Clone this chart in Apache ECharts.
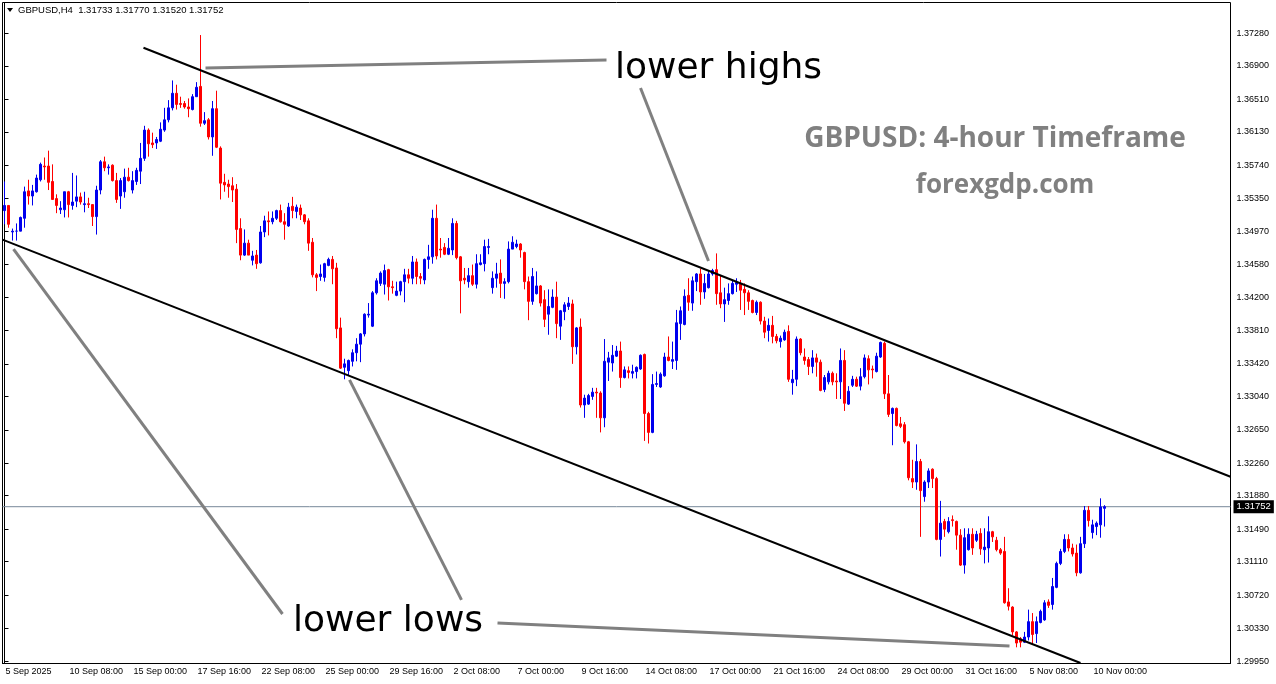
<!DOCTYPE html>
<html>
<head>
<meta charset="utf-8">
<title>GBPUSD H4</title>
<script src="https://cdn.jsdelivr.net/npm/echarts@6.0.0/dist/echarts.min.js"></script>
<style>
html, body { margin: 0; padding: 0; background: #fff; }
#chart { width: 1276px; height: 684px; }
</style>
</head>
<body>
<div id="chart"></div>
<script>
// GBPUSD H4 candles (oldest first)
var symbolName = 'GBPUSD,H4'

var openPrices = [
  1.3521, 1.3527, 1.3496, 1.3497, 1.3497, 1.3512, 1.3544, 1.3538, 1.3543, 1.3557,
  1.3573, 1.3573, 1.3555, 1.3535, 1.3522, 1.3522, 1.3543, 1.3527, 1.3532, 1.3537,
  1.3528, 1.3529, 1.3528, 1.3514, 1.3545, 1.3578, 1.3571, 1.3574, 1.3556, 1.3538,
  1.3543, 1.3560, 1.3545, 1.3555, 1.3567, 1.3582, 1.3615, 1.3600, 1.3600, 1.3602,
  1.3615, 1.3627, 1.3641, 1.3658, 1.3646, 1.3646, 1.3642, 1.3639, 1.3654, 1.3666,
  1.3623, 1.3627, 1.3607, 1.3640, 1.3594, 1.3554, 1.3552, 1.3550, 1.3546, 1.3500,
  1.3469, 1.3483, 1.3463, 1.3469, 1.3460, 1.3496, 1.3509, 1.3508, 1.3512, 1.3521,
  1.3508, 1.3503, 1.3526, 1.3520, 1.3524, 1.3516, 1.3509, 1.3484, 1.3446, 1.3444,
  1.3443, 1.3457, 1.3464, 1.3454, 1.3384, 1.3338, 1.3334, 1.3345, 1.3355, 1.3365,
  1.3377, 1.3399, 1.3386, 1.3425, 1.3436, 1.3435, 1.3452, 1.3432, 1.3422, 1.3427,
  1.3438, 1.3446, 1.3442, 1.3461, 1.3444, 1.3440, 1.3464, 1.3467, 1.3512, 1.3476,
  1.3478, 1.3470, 1.3475, 1.3506, 1.3467, 1.3442, 1.3438, 1.3445, 1.3435, 1.3458,
  1.3459, 1.3478, 1.3431, 1.3442, 1.3448, 1.3436, 1.3438, 1.3476, 1.3479, 1.3482,
  1.3472, 1.3438, 1.3415, 1.3424, 1.3433, 1.3417, 1.3400, 1.3408, 1.3420, 1.3386,
  1.3403, 1.3409, 1.3412, 1.3362, 1.3385, 1.3294, 1.3295, 1.3304, 1.3309, 1.3308,
  1.3279, 1.3344, 1.3343, 1.3351, 1.3357, 1.3326, 1.3334, 1.3331, 1.3333, 1.3336,
  1.3353, 1.3284, 1.3262, 1.3318, 1.3315, 1.3328, 1.3350, 1.3345, 1.3346, 1.3389,
  1.3388, 1.3422, 1.3413, 1.3438, 1.3447, 1.3426, 1.3431, 1.3447, 1.3452, 1.3425,
  1.3412, 1.3416, 1.3424, 1.3435, 1.3436, 1.3429, 1.3425, 1.3416, 1.3402, 1.3414,
  1.3392, 1.3381, 1.3387, 1.3374, 1.3368, 1.3370, 1.3380, 1.3320, 1.3324, 1.3371,
  1.3350, 1.3347, 1.3339, 1.3349, 1.3344, 1.3312, 1.3321, 1.3331, 1.3322, 1.3321,
  1.3346, 1.3295, 1.3317, 1.3324, 1.3316, 1.3327, 1.3348, 1.3336, 1.3333, 1.3350,
  1.3366, 1.3307, 1.3284, 1.3290, 1.3272, 1.3271, 1.3251, 1.3208, 1.3204, 1.3228,
  1.3187, 1.3204, 1.3219, 1.3208, 1.3137, 1.3158, 1.3146, 1.3160, 1.3158, 1.3142,
  1.3107, 1.3125, 1.3143, 1.3136, 1.3144, 1.3125, 1.3127, 1.3146, 1.3136, 1.3125,
  1.3123, 1.3064, 1.3058, 1.3029, 1.3021, 1.3017, 1.3023, 1.3041, 1.3027, 1.3040,
  1.3043, 1.3064, 1.3061, 1.3081, 1.3109, 1.3123, 1.3137, 1.3127, 1.3121, 1.3098,
  1.3132, 1.3171, 1.3145, 1.3152, 1.3154, 1.31733
]

var highPrices = [
  1.3555, 1.3527, 1.3500, 1.3506, 1.3514, 1.3549, 1.3557, 1.3551, 1.3563, 1.3577,
  1.3583, 1.3591, 1.3575, 1.3540, 1.3532, 1.3543, 1.3544, 1.3565, 1.3562, 1.3542,
  1.3543, 1.3536, 1.3528, 1.3550, 1.3580, 1.3584, 1.3575, 1.3575, 1.3565, 1.3559,
  1.3570, 1.3571, 1.3567, 1.3571, 1.3600, 1.3620, 1.3617, 1.3612, 1.3607, 1.3624,
  1.3641, 1.3650, 1.3673, 1.3668, 1.3654, 1.3649, 1.3652, 1.3657, 1.3671, 1.3726,
  1.3636, 1.3629, 1.3649, 1.3661, 1.3596, 1.3564, 1.3557, 1.3560, 1.3552, 1.3512,
  1.3499, 1.3487, 1.3474, 1.3475, 1.3503, 1.3515, 1.3520, 1.3520, 1.3522, 1.3528,
  1.3518, 1.3530, 1.3537, 1.3528, 1.3528, 1.3517, 1.3512, 1.3489, 1.3448, 1.3458,
  1.3460, 1.3466, 1.3468, 1.3460, 1.3396, 1.3348, 1.3347, 1.3359, 1.3372, 1.3378,
  1.3401, 1.3413, 1.3427, 1.3442, 1.3450, 1.3458, 1.3453, 1.3439, 1.3438, 1.3439,
  1.3453, 1.3453, 1.3468, 1.3465, 1.3448, 1.3465, 1.3481, 1.3522, 1.3528, 1.3489,
  1.3483, 1.3489, 1.3512, 1.3509, 1.3468, 1.3454, 1.3454, 1.3458, 1.3470, 1.3470,
  1.3487, 1.3488, 1.3450, 1.3460, 1.3464, 1.3442, 1.3485, 1.3491, 1.3487, 1.3483,
  1.3473, 1.3444, 1.3454, 1.3450, 1.3434, 1.3428, 1.3429, 1.3429, 1.3438, 1.3405,
  1.3414, 1.3420, 1.3417, 1.3385, 1.3395, 1.3306, 1.3307, 1.3314, 1.3314, 1.3310,
  1.3371, 1.3356, 1.3364, 1.3363, 1.3368, 1.3339, 1.3339, 1.3341, 1.3339, 1.3353,
  1.3354, 1.3286, 1.3330, 1.3333, 1.3332, 1.3355, 1.3374, 1.3368, 1.3405, 1.3409,
  1.3429, 1.3442, 1.3444, 1.3448, 1.3453, 1.3447, 1.3451, 1.3453, 1.3471, 1.3445,
  1.3431, 1.3436, 1.3440, 1.3442, 1.3440, 1.3436, 1.3428, 1.3417, 1.3416, 1.3415,
  1.3397, 1.3395, 1.3398, 1.3377, 1.3375, 1.3382, 1.3387, 1.3335, 1.3374, 1.3372,
  1.3360, 1.3350, 1.3358, 1.3354, 1.3347, 1.3329, 1.3334, 1.3333, 1.3331, 1.3360,
  1.3358, 1.3316, 1.3328, 1.3327, 1.3337, 1.3353, 1.3352, 1.3340, 1.3355, 1.3368,
  1.3368, 1.3329, 1.3291, 1.3291, 1.3280, 1.3274, 1.3252, 1.3230, 1.3248, 1.3231,
  1.3206, 1.3220, 1.3220, 1.3210, 1.3182, 1.3161, 1.3163, 1.3165, 1.3159, 1.3149,
  1.3150, 1.3150, 1.3150, 1.3147, 1.3150, 1.3150, 1.3164, 1.3147, 1.3140, 1.3127,
  1.3140, 1.3080, 1.3059, 1.3030, 1.3023, 1.3029, 1.3055, 1.3051, 1.3047, 1.3055,
  1.3066, 1.3067, 1.3092, 1.3111, 1.3126, 1.3143, 1.3143, 1.3132, 1.3131, 1.3140,
  1.3176, 1.3176, 1.3160, 1.3158, 1.3185, 1.31770
]

var lowPrices = [
  1.3505, 1.3501, 1.3486, 1.3486, 1.3501, 1.3501, 1.3528, 1.3527, 1.3542, 1.3555,
  1.3557, 1.3545, 1.3534, 1.3518, 1.3517, 1.3513, 1.3513, 1.3522, 1.3525, 1.3528,
  1.3519, 1.3524, 1.3503, 1.3493, 1.3540, 1.3567, 1.3563, 1.3555, 1.3530, 1.3523,
  1.3536, 1.3555, 1.3541, 1.3551, 1.3552, 1.3579, 1.3584, 1.3594, 1.3593, 1.3601,
  1.3613, 1.3624, 1.3638, 1.3639, 1.3641, 1.3640, 1.3630, 1.3638, 1.3654, 1.3619,
  1.3621, 1.3604, 1.3585, 1.3594, 1.3534, 1.3543, 1.3536, 1.3531, 1.3483, 1.3463,
  1.3468, 1.3469, 1.3457, 1.3453, 1.3459, 1.3490, 1.3492, 1.3505, 1.3510, 1.3507,
  1.3487, 1.3502, 1.3512, 1.3512, 1.3510, 1.3505, 1.3474, 1.3443, 1.3427, 1.3439,
  1.3438, 1.3456, 1.3435, 1.3372, 1.3336, 1.3324, 1.3329, 1.3339, 1.3345, 1.3344,
  1.3374, 1.3396, 1.3385, 1.3423, 1.3433, 1.3423, 1.3416, 1.3424, 1.3421, 1.3422,
  1.3414, 1.3436, 1.3435, 1.3435, 1.3435, 1.3435, 1.3453, 1.3459, 1.3464, 1.3466,
  1.3469, 1.3469, 1.3469, 1.3464, 1.3401, 1.3435, 1.3431, 1.3433, 1.3430, 1.3457,
  1.3450, 1.3470, 1.3424, 1.3431, 1.3419, 1.3418, 1.3436, 1.3476, 1.3477, 1.3466,
  1.3429, 1.3393, 1.3411, 1.3423, 1.3409, 1.3385, 1.3376, 1.3407, 1.3372, 1.3370,
  1.3393, 1.3405, 1.3342, 1.3353, 1.3291, 1.3279, 1.3294, 1.3300, 1.3279, 1.3262,
  1.3268, 1.3322, 1.3333, 1.3350, 1.3314, 1.3325, 1.3325, 1.3325, 1.3325, 1.3335,
  1.3252, 1.3249, 1.3261, 1.3315, 1.3314, 1.3327, 1.3345, 1.3336, 1.3335, 1.3370,
  1.3387, 1.3404, 1.3404, 1.3427, 1.3411, 1.3418, 1.3430, 1.3445, 1.3411, 1.3407,
  1.3391, 1.3411, 1.3423, 1.3426, 1.3405, 1.3399, 1.3405, 1.3401, 1.3399, 1.3388,
  1.3372, 1.3368, 1.3366, 1.3366, 1.3361, 1.3369, 1.3321, 1.3306, 1.3316, 1.3352,
  1.3341, 1.3329, 1.3331, 1.3327, 1.3310, 1.3309, 1.3318, 1.3317, 1.3301, 1.3301,
  1.3287, 1.3294, 1.3315, 1.3315, 1.3311, 1.3325, 1.3318, 1.3325, 1.3332, 1.3349,
  1.3301, 1.3280, 1.3247, 1.3269, 1.3267, 1.3249, 1.3206, 1.3197, 1.3195, 1.3140,
  1.3181, 1.3197, 1.3197, 1.3136, 1.3117, 1.3140, 1.3144, 1.3152, 1.3125, 1.3106,
  1.3097, 1.3124, 1.3119, 1.3134, 1.3119, 1.3109, 1.3110, 1.3134, 1.3123, 1.3119,
  1.3062, 1.3054, 1.3025, 1.3011, 1.3011, 1.3016, 1.3019, 1.3014, 1.3016, 1.3039,
  1.3042, 1.3057, 1.3055, 1.3080, 1.3107, 1.3121, 1.3123, 1.3117, 1.3094, 1.3097,
  1.3127, 1.3152, 1.3138, 1.3142, 1.3139, 1.31520
]

var closePrices = [
  1.3527, 1.3505, 1.3497, 1.3497, 1.3513, 1.3543, 1.3538, 1.3544, 1.3559, 1.3575,
  1.3572, 1.3554, 1.3534, 1.3527, 1.3524, 1.3543, 1.3528, 1.3531, 1.3537, 1.3531,
  1.3529, 1.3528, 1.3514, 1.3545, 1.3578, 1.3571, 1.3572, 1.3556, 1.3534, 1.3556,
  1.3560, 1.3556, 1.3556, 1.3568, 1.3582, 1.3615, 1.3599, 1.3598, 1.3604, 1.3616,
  1.3627, 1.3641, 1.3658, 1.3645, 1.3645, 1.3642, 1.3640, 1.3654, 1.3665, 1.3623,
  1.3626, 1.3607, 1.3640, 1.3595, 1.3553, 1.3551, 1.3549, 1.3545, 1.3499, 1.3469,
  1.3483, 1.3469, 1.3468, 1.3459, 1.3496, 1.3509, 1.3508, 1.3512, 1.3521, 1.3508,
  1.3505, 1.3525, 1.3521, 1.3525, 1.3516, 1.3508, 1.3483, 1.3446, 1.3443, 1.3447,
  1.3459, 1.3464, 1.3453, 1.3383, 1.3337, 1.3342, 1.3346, 1.3355, 1.3365, 1.3377,
  1.3400, 1.3400, 1.3425, 1.3439, 1.3448, 1.3451, 1.3432, 1.3431, 1.3427, 1.3438,
  1.3446, 1.3442, 1.3461, 1.3444, 1.3442, 1.3464, 1.3467, 1.3512, 1.3468, 1.3475,
  1.3470, 1.3477, 1.3506, 1.3466, 1.3439, 1.3440, 1.3445, 1.3435, 1.3459, 1.3460,
  1.3479, 1.3479, 1.3442, 1.3447, 1.3436, 1.3438, 1.3476, 1.3484, 1.3482, 1.3475,
  1.3438, 1.3415, 1.3444, 1.3433, 1.3413, 1.3394, 1.3409, 1.3420, 1.3389, 1.3404,
  1.3411, 1.3413, 1.3362, 1.3384, 1.3294, 1.3302, 1.3305, 1.3309, 1.3308, 1.3279,
  1.3345, 1.3349, 1.3352, 1.3357, 1.3326, 1.3335, 1.3332, 1.3333, 1.3338, 1.3352,
  1.3284, 1.3262, 1.3318, 1.3319, 1.3330, 1.3350, 1.3346, 1.3347, 1.3390, 1.3404,
  1.3421, 1.3414, 1.3439, 1.3447, 1.3426, 1.3436, 1.3447, 1.3451, 1.3424, 1.3412,
  1.3417, 1.3424, 1.3436, 1.3437, 1.3428, 1.3425, 1.3415, 1.3402, 1.3414, 1.3392,
  1.3379, 1.3387, 1.3374, 1.3369, 1.3372, 1.3379, 1.3324, 1.3324, 1.3371, 1.3355,
  1.3346, 1.3339, 1.3349, 1.3344, 1.3311, 1.3326, 1.3331, 1.3321, 1.3321, 1.3346,
  1.3296, 1.3310, 1.3324, 1.3316, 1.3327, 1.3349, 1.3335, 1.3335, 1.3351, 1.3367,
  1.3307, 1.3283, 1.3290, 1.3270, 1.3269, 1.3251, 1.3209, 1.3204, 1.3228, 1.3194,
  1.3204, 1.3217, 1.3208, 1.3137, 1.3156, 1.3149, 1.3158, 1.3159, 1.3142, 1.3107,
  1.3139, 1.3143, 1.3127, 1.3143, 1.3126, 1.3128, 1.3146, 1.3140, 1.3125, 1.3121,
  1.3063, 1.3059, 1.3029, 1.3016, 1.3017, 1.3023, 1.3041, 1.3026, 1.3041, 1.3053,
  1.3063, 1.3060, 1.3082, 1.3109, 1.3123, 1.3137, 1.3127, 1.3120, 1.3098, 1.3132,
  1.3171, 1.3159, 1.3154, 1.3156, 1.3175, 1.31752
]

// time axis: one label every 16 bars, empty slots on the right (chart shift)
var timeLabels = [
  '5 Sep 2025', '10 Sep 08:00', '15 Sep 00:00', '17 Sep 16:00', '22 Sep 08:00',
  '25 Sep 00:00', '29 Sep 16:00', '2 Oct 08:00', '7 Oct 00:00', '9 Oct 16:00',
  '14 Oct 08:00', '17 Oct 00:00', '21 Oct 16:00', '24 Oct 08:00', '29 Oct 00:00',
  '31 Oct 16:00', '5 Nov 08:00', '10 Nov 00:00'
]
var labelStep = 16
var slotCount = 307

var priceTicks = [
  1.37280, 1.36900, 1.36510, 1.36130, 1.35740, 1.35350, 1.34970, 1.34580, 1.34200, 1.33810,
  1.33420, 1.33040, 1.32650, 1.32260, 1.31880, 1.31490, 1.31110, 1.30720, 1.30330, 1.29950
]

// drawn objects, as [bar index, price]
var upperChannel = [[34.75, 1.37112], [306.5, 1.32102]]
var lowerChannel = [[-0.5, 1.34871], [269, 1.29927]]
var highsPointer = [[50.25, 1.36875], [150.5, 1.36968]]
var highsArrow = [[159, 1.36641], [176, 1.34621]]
var lowsArrow1 = [[2.25, 1.34761], [69.5, 1.30499]]
var lowsArrow2 = [[86.25, 1.33233], [114.25, 1.30664]]
var lowsPointer = [[123.25, 1.30395], [251.25, 1.30126]]

var chartDom = document.getElementById('chart')
var chart = echarts.init(chartDom)

var categories = []
for (var i = 0; i < slotCount; i++) categories.push(String(i))

var candles = openPrices.map(function (o, i) {
  return [o, closePrices[i], lowPrices[i], highPrices[i]]
})
var last = openPrices.length - 1
var lastClose = closePrices[last]

function fmt (v) { return v.toFixed(5) }

function trendLine (points, color, width) {
  return {
    type: 'line',
    xAxisIndex: 1,
    yAxisIndex: 0,
    data: points,
    symbol: 'none',
    silent: true,
    clip: true,
    z: 4,
    lineStyle: { color: color, width: width }
  }
}

function showTimeLabel (idx) {
  return idx % labelStep === 0 && idx / labelStep < timeLabels.length
}

var axisFont = 'Liberation Sans'

// current bid line with its black price box on the scale
var bidLine = trendLine([[-0.5, lastClose], [slotCount - 0.5, lastClose]], '#778899', 1)
bidLine.z = 2
bidLine.endLabel = {
  show: true,
  distance: 3,
  formatter: function () { return fmt(lastClose) },
  backgroundColor: '#000',
  color: '#fff',
  padding: [2, 3, 1, 3],
  fontFamily: axisFont,
  fontSize: 9.5
}

var option = {
  animation: false,
  backgroundColor: '#fff',
  grid: {
    left: 2.5, right: 45.5, top: 2.5, bottom: 20.5,
    show: true, borderColor: '#000', borderWidth: 1, backgroundColor: '#fff'
  },
  xAxis: [
    {
      type: 'category',
      data: categories,
      boundaryGap: true,
      axisLine: { lineStyle: { color: '#000' } },
      axisTick: {
        alignWithLabel: true,
        length: 4,
        interval: showTimeLabel,
        lineStyle: { color: '#000' }
      },
      axisLabel: {
        interval: showTimeLabel,
        formatter: function (v, idx) { return timeLabels[idx / labelStep] || '' },
        align: 'left',
        margin: 4,
        padding: [0, 0, 0, 1],
        color: '#000',
        fontFamily: axisFont,
        fontSize: 9
      },
      splitLine: { show: false }
    },
    {
      type: 'value',
      min: -0.5,
      max: slotCount - 0.5,
      show: false
    }
  ],
  yAxis: {
    type: 'value',
    position: 'right',
    min: 1.29921,
    max: 1.37640,
    axisLine: { show: true, lineStyle: { color: '#000' } },
    axisTick: { show: true, length: 4, customValues: priceTicks, lineStyle: { color: '#000' } },
    axisLabel: {
      customValues: priceTicks,
      formatter: fmt,
      margin: 6,
      color: '#000',
      fontFamily: axisFont,
      fontSize: 9
    },
    splitLine: { show: false }
  },
  series: [
    {
      type: 'candlestick',
      data: candles,
      barWidth: 2,
      z: 3,
      itemStyle: {
        color: '#0000ee',
        color0: '#ff0000',
        borderColor: '#0000ee',
        borderColor0: '#ff0000',
        borderWidth: 1
      }
    },
    bidLine,
    trendLine(upperChannel, '#000', 2),
    trendLine(lowerChannel, '#000', 2),
    trendLine(highsPointer, '#808080', 3),
    trendLine(highsArrow, '#808080', 3),
    trendLine(lowsArrow1, '#808080', 3),
    trendLine(lowsArrow2, '#808080', 3),
    trendLine(lowsPointer, '#808080', 3)
  ],
  graphic: [
    {
      type: 'polygon',
      shape: { points: [[7, 8], [13, 8], [10, 12]] },
      style: { fill: '#000' }
    },
    {
      type: 'text', x: 18, y: 10,
      style: {
        text: symbolName + '  ' + [openPrices[last], highPrices[last], lowPrices[last], lastClose].map(fmt).join(' '),
        fill: '#000', font: '9.5px "Liberation Sans"', verticalAlign: 'middle'
      }
    },
    {
      type: 'text', x: 615, y: 69, z: 10,
      style: { text: 'lower highs', fill: '#000', font: '36px "DejaVu Sans"', verticalAlign: 'middle' }
    },
    {
      type: 'text', x: 293, y: 622, z: 10,
      style: { text: 'lower lows', fill: '#000', font: '36px "DejaVu Sans"', verticalAlign: 'middle' }
    },
    {
      type: 'text', x: 995, y: 139, z: 10,
      style: { text: 'GBPUSD: 4-hour Timeframe', fill: '#808080', font: 'bold 28px "Open Sans"', align: 'center', verticalAlign: 'middle' }
    },
    {
      type: 'text', x: 1005, y: 186, z: 10,
      style: { text: 'forexgdp.com', fill: '#808080', font: 'bold 26px "Open Sans"', align: 'center', verticalAlign: 'middle' }
    }
  ]
}

chart.setOption(option)
</script>
</body>
</html>
